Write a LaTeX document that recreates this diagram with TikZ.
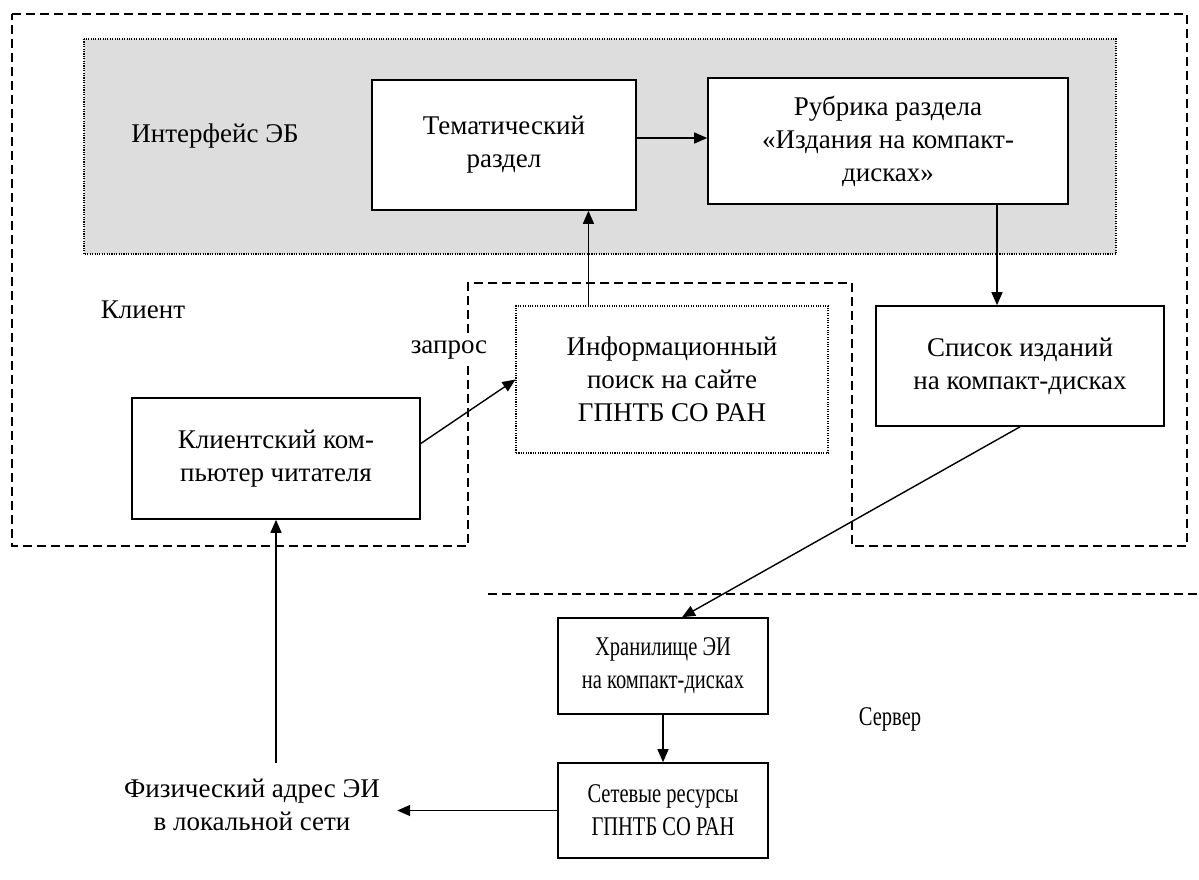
\documentclass[tikz,border=0pt]{standalone}
\usepackage{fontspec}
\setmainfont{Liberation Serif}
\usetikzlibrary{arrows.meta}
\definecolor{panel}{RGB}{221,221,221}
\begin{document}
\begin{tikzpicture}[x=1pt,y=-1pt,
  every node/.style={font=\fontsize{27}{33}\selectfont, align=center},
  box/.style={draw, line width=1.6pt, fill=white, inner sep=0pt},
  dotbox/.style={draw, line width=1.1pt, dash pattern=on 1.1pt off 1.3pt, fill=white, inner sep=0pt},
  arr/.style={line width=1.4pt, -{Triangle[length=13pt,width=11pt]}},
  region/.style={line width=1.5pt, dash pattern=on 9pt off 5pt},
  cond/.style={inner sep=0pt}]
\useasboundingbox (0,0) rectangle (1199,879);
% regions
\draw[region] (12,14) -- (1187,14) -- (1187,546) -- (852,546) -- (852,283) -- (468,283) -- (468,546) -- (12,546) -- cycle;
\draw[region] (488,594) -- (1199,594);
\draw[line width=1.1pt, dash pattern=on 1.1pt off 1.3pt, fill=panel] (84,39) rectangle (1116,254);
% labels
\node[anchor=base] (iface) at (215,142) {Интерфейс ЭБ};
\node[anchor=base] (client) at (143,318) {Клиент};
\node[anchor=base, fill=white, inner sep=3pt] (zapros) at (449,353) {запрос};
\node[anchor=base] (server) at (890,725) {\scalebox{0.76}[1]{Сервер}};
% boxes
\node[box, minimum width=264pt, minimum height=130pt] (tem) at (504,145) {Тематический\\раздел};
\node[box, minimum width=360pt, minimum height=126pt] (rub) at (888,141) {Рубрика раздела\\«Издания на компакт-\\дисках»};
\node[dotbox, minimum width=312pt, minimum height=147pt] (info) at (672,379.5) {Информационный\\поиск на сайте\\ГПНТБ СО РАН};
\node[box, minimum width=288pt, minimum height=120pt] (spis) at (1020,366) {Список изданий\\на компакт-дисках};
\node[box, minimum width=288pt, minimum height=121pt] (cli) at (276,458.5) {Клиентский ком-\\пьютер читателя};
\node[box, minimum width=210pt, minimum height=96pt] (xr) at (663,666) {\scalebox{0.76}[1]{Хранилище ЭИ}\\\scalebox{0.76}[1]{на компакт-дисках}};
\node[box, minimum width=210pt, minimum height=95pt] (set) at (663,810.5) {\scalebox{0.76}[1]{Сетевые ресурсы}\\\scalebox{0.76}[1]{ГПНТБ СО РАН}};
\node[minimum width=290pt, minimum height=84pt, inner sep=0pt] (phys) at (252,805) {Физический адрес ЭИ\\в локальной сети};
% arrows
\draw[arr] ([yshift=7pt]tem.east) -- ([yshift=7pt]tem.east -| rub.west);
\draw[arr] ([xshift=73pt]info.north west) -- ([xshift=73pt]info.north west |- tem.south);
\draw[arr] ([xshift=-23pt]spis.north |- rub.south) -- ([xshift=-23pt]spis.north);
\draw[arr] (spis.south) -- ([xshift=19pt]xr.north);
\draw[arr] (xr.south) -- (set.north);
\draw[arr] (set.west) -- (set.west -| phys.east);
\draw[arr] (cli.south |- phys.north) -- (cli.south);
\draw[arr] ([yshift=15pt]cli.east) -- (info.west);
\end{tikzpicture}
\end{document}
